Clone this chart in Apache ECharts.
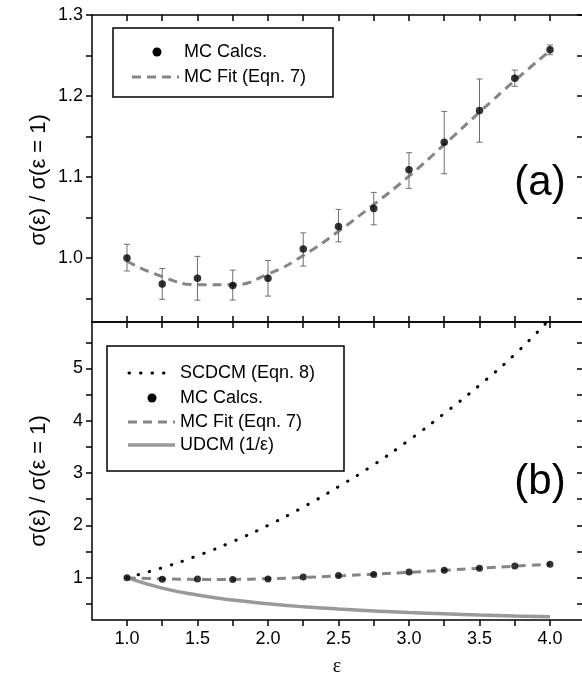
<!DOCTYPE html>
<html>
<head>
<meta charset="utf-8">
<script src="https://cdn.jsdelivr.net/npm/echarts@6/dist/echarts.min.js"></script>
<style>
html,body{margin:0;padding:0;background:#fff;}
#c{width:582px;height:685px;}
</style>
</head>
<body>
<div id="c"></div>
<script>
// ---- data ----
var eps = [1.0, 1.25, 1.5, 1.75, 2.0, 2.25, 2.5, 2.75, 3.0, 3.25, 3.5, 3.75, 4.0];
var mcCalc = [1.000, 0.968, 0.975, 0.966, 0.975, 1.011, 1.039, 1.061, 1.109, 1.143, 1.182, 1.222, 1.257];
var mcErrLow = [0.984, 0.949, 0.948, 0.948, 0.953, 0.990, 1.020, 1.041, 1.086, 1.104, 1.143, 1.212, 1.251];
var mcErrHigh = [1.017, 0.987, 1.002, 0.985, 0.997, 1.031, 1.060, 1.081, 1.130, 1.181, 1.221, 1.232, 1.263];
var mcFit = [0.996, 0.977, 0.967, 0.967, 0.980, 1.003, 1.033, 1.066, 1.101, 1.140, 1.180, 1.219, 1.256];
var scdcm = [1.00, 1.19, 1.42, 1.69, 2.00, 2.35, 2.74, 3.16, 3.63, 4.14, 4.68, 5.27, 5.95];
var udcm = [1.000, 0.800, 0.667, 0.571, 0.500, 0.444, 0.400, 0.364, 0.333, 0.308, 0.286, 0.267, 0.250];

var xTickLabels = [1.0, 1.5, 2.0, 2.5, 3.0, 3.5, 4.0];
var xTicks = [1.0, 1.25, 1.5, 1.75, 2.0, 2.25, 2.5, 2.75, 3.0, 3.25, 3.5, 3.75, 4.0];
var yTopLabels = [1.0, 1.1, 1.2, 1.3];
var yTopTicks = [0.95, 1.0, 1.05, 1.1, 1.15, 1.2, 1.25, 1.3];
var yBotLabels = [1, 2, 3, 4, 5];
var yBotTicks = [0.5, 1, 1.5, 2, 2.5, 3, 3.5, 4, 4.5, 5, 5.5];

var legendTop = ['MC Calcs.', 'MC Fit (Eqn. 7)'];
var legendBot = ['SCDCM (Eqn. 8)', 'MC Calcs.', 'MC Fit (Eqn. 7)', 'UDCM (1/\u03b5)'];
var yTitle = '\u03c3(\u03b5) / \u03c3(\u03b5 = 1)';

// ---- build ----
function pairs(xs, ys) { return xs.map(function (x, i) { return [x, ys[i]]; }); }
var errData = eps.map(function (x, i) { return [x, mcErrLow[i], mcErrHigh[i]]; });

var FONT = 'Liberation Sans, Arial, sans-serif';
var XMIN = 0.752, XMAX = 4.234;
var tickStyle = { color: '#000', width: 1.5 };

function xAx(grid, pos, inside, labels) {
  return {
    type: 'value', gridIndex: grid, position: pos, min: XMIN, max: XMAX,
    axisLine: { show: false }, splitLine: { show: false },
    axisTick: { show: true, inside: inside, length: 6, lineStyle: tickStyle, customValues: xTicks },
    axisLabel: labels ? { show: true, customValues: xTickLabels, margin: 10, color: '#000', fontSize: 18, fontFamily: FONT,
      formatter: function (v) { return v.toFixed(1); } } : { show: false }
  };
}
function yAx(grid, pos, inside, min, max, ticks, labels, dec) {
  return {
    type: 'value', gridIndex: grid, position: pos, min: min, max: max,
    axisLine: { show: false }, splitLine: { show: false },
    axisTick: { show: true, inside: inside, length: 6, lineStyle: tickStyle, customValues: ticks },
    axisLabel: labels ? { show: true, customValues: labels, margin: 9, color: '#000', fontSize: 18, fontFamily: FONT,
      formatter: function (v) { return v.toFixed(dec); } } : { show: false }
  };
}

var errorBars = {
  type: 'custom', xAxisIndex: 0, yAxisIndex: 0, z: 3,
  data: errData,
  renderItem: function (params, api) {
    var x = api.value(0);
    var lo = api.coord([x, api.value(1)]);
    var hi = api.coord([x, api.value(2)]);
    var w = 3;
    var st = { stroke: '#6e6e6e', lineWidth: 1 };
    return { type: 'group', children: [
      { type: 'line', shape: { x1: lo[0], y1: lo[1], x2: hi[0], y2: hi[1] }, style: st },
      { type: 'line', shape: { x1: lo[0] - w, y1: lo[1], x2: lo[0] + w, y2: lo[1] }, style: st },
      { type: 'line', shape: { x1: hi[0] - w, y1: hi[1], x2: hi[0] + w, y2: hi[1] }, style: st }
    ] };
  }
};

var dashStyle = { color: '#858585', width: 3, type: [9, 6] };

var option = {
  backgroundColor: '#fff',
  animation: false,
  grid: [
    { left: 92, top: 15, width: 491, height: 307, show: true, borderColor: '#000', borderWidth: 1.5, backgroundColor: 'transparent', outerBoundsMode: 'none', containLabel: false },
    { left: 92, top: 322, width: 491, height: 298, show: true, borderColor: '#000', borderWidth: 1.5, backgroundColor: 'transparent', outerBoundsMode: 'none', containLabel: false }
  ],
  xAxis: [
    xAx(0, 'bottom', true, false),
    xAx(0, 'top', true, false),
    xAx(1, 'bottom', false, true),
    xAx(1, 'top', true, false)
  ],
  yAxis: [
    yAx(0, 'left', false, 0.921, 1.3, yTopTicks, yTopLabels, 1),
    yAx(0, 'right', true, 0.921, 1.3, yTopTicks, null, 1),
    yAx(1, 'left', false, 0.19, 5.89, yBotTicks, yBotLabels, 0),
    yAx(1, 'right', true, 0.19, 5.89, yBotTicks, null, 0)
  ],
  series: [
    errorBars,
    { type: 'line', xAxisIndex: 0, yAxisIndex: 0, data: pairs(eps, mcFit), smooth: true, showSymbol: false,
      lineStyle: dashStyle, z: 2 },
    { type: 'scatter', xAxisIndex: 0, yAxisIndex: 0, data: pairs(eps, mcCalc), symbolSize: 7.5,
      itemStyle: { color: '#000' }, z: 4 },
    { type: 'line', xAxisIndex: 2, yAxisIndex: 2, data: pairs(eps, scdcm), smooth: true, showSymbol: false,
      lineStyle: { color: '#000', width: 3, type: [0.5, 11], cap: 'round' }, z: 2 },
    { type: 'line', xAxisIndex: 2, yAxisIndex: 2, data: pairs(eps, udcm), smooth: true, showSymbol: false,
      lineStyle: { color: '#999', width: 3.5 }, z: 2 },
    { type: 'line', xAxisIndex: 2, yAxisIndex: 2, data: pairs(eps, mcFit), smooth: true, showSymbol: false,
      lineStyle: dashStyle, z: 3 },
    { type: 'scatter', xAxisIndex: 2, yAxisIndex: 2, data: pairs(eps, mcCalc), symbolSize: 7,
      itemStyle: { color: '#000' }, z: 4 }
  ],
  graphic: [
    // top legend
    { type: 'rect', shape: { x: 113, y: 28, width: 220, height: 69 }, style: { fill: '#fff', stroke: '#000', lineWidth: 1.5 }, z: 10 },
    { type: 'circle', shape: { cx: 157, cy: 52, r: 4.5 }, style: { fill: '#000' }, z: 11 },
    { type: 'text', x: 184, y: 52, style: { text: legendTop[0], font: '18px ' + FONT, fill: '#000', verticalAlign: 'middle' }, z: 11 },
    { type: 'line', shape: { x1: 132, y1: 77, x2: 179, y2: 77 }, style: { stroke: '#858585', lineWidth: 3, lineDash: [9, 6] }, z: 11 },
    { type: 'text', x: 184, y: 77, style: { text: legendTop[1], font: '18px ' + FONT, fill: '#000', verticalAlign: 'middle' }, z: 11 },
    // bottom legend
    { type: 'rect', shape: { x: 107, y: 346, width: 237, height: 125 }, style: { fill: '#fff', stroke: '#000', lineWidth: 1.5 }, z: 10 },
    { type: 'line', shape: { x1: 129, y1: 373, x2: 172, y2: 373 }, style: { stroke: '#000', lineWidth: 3, lineDash: [0.5, 11], lineCap: 'round' }, z: 11 },
    { type: 'text', x: 180, y: 373, style: { text: legendBot[0], font: '18px ' + FONT, fill: '#000', verticalAlign: 'middle' }, z: 11 },
    { type: 'circle', shape: { cx: 152, cy: 398, r: 4.5 }, style: { fill: '#000' }, z: 11 },
    { type: 'text', x: 180, y: 398, style: { text: legendBot[1], font: '18px ' + FONT, fill: '#000', verticalAlign: 'middle' }, z: 11 },
    { type: 'line', shape: { x1: 128, y1: 422, x2: 175, y2: 422 }, style: { stroke: '#858585', lineWidth: 3, lineDash: [9, 6] }, z: 11 },
    { type: 'text', x: 180, y: 422, style: { text: legendBot[2], font: '18px ' + FONT, fill: '#000', verticalAlign: 'middle' }, z: 11 },
    { type: 'line', shape: { x1: 128, y1: 445, x2: 175, y2: 445 }, style: { stroke: '#999', lineWidth: 3.5 }, z: 11 },
    { type: 'text', x: 180, y: 445, style: { text: legendBot[3], font: '18px ' + FONT, fill: '#000', verticalAlign: 'middle' }, z: 11 },
    // panel tags
    { type: 'text', x: 540, y: 183, style: { text: '(a)', font: '42px ' + FONT, fill: '#000', align: 'center', verticalAlign: 'middle' }, z: 11 },
    { type: 'text', x: 540, y: 482, style: { text: '(b)', font: '42px ' + FONT, fill: '#000', align: 'center', verticalAlign: 'middle' }, z: 11 },
    // axis titles
    { type: 'text', x: 39, y: 180, rotation: Math.PI / 2, style: { text: yTitle, font: '22px ' + FONT, fill: '#000', align: 'center', verticalAlign: 'middle' }, z: 11 },
    { type: 'text', x: 39, y: 481, rotation: Math.PI / 2, style: { text: yTitle, font: '22px ' + FONT, fill: '#000', align: 'center', verticalAlign: 'middle' }, z: 11 },
    { type: 'text', x: 337, y: 667, style: { text: '\u03b5', font: '20px Liberation Serif, serif', fill: '#000', align: 'center', verticalAlign: 'middle' }, z: 11 }
  ]
};

var chart = echarts.init(document.getElementById('c'), null, { renderer: 'canvas' });
chart.setOption(option);
</script>
</body>
</html>
